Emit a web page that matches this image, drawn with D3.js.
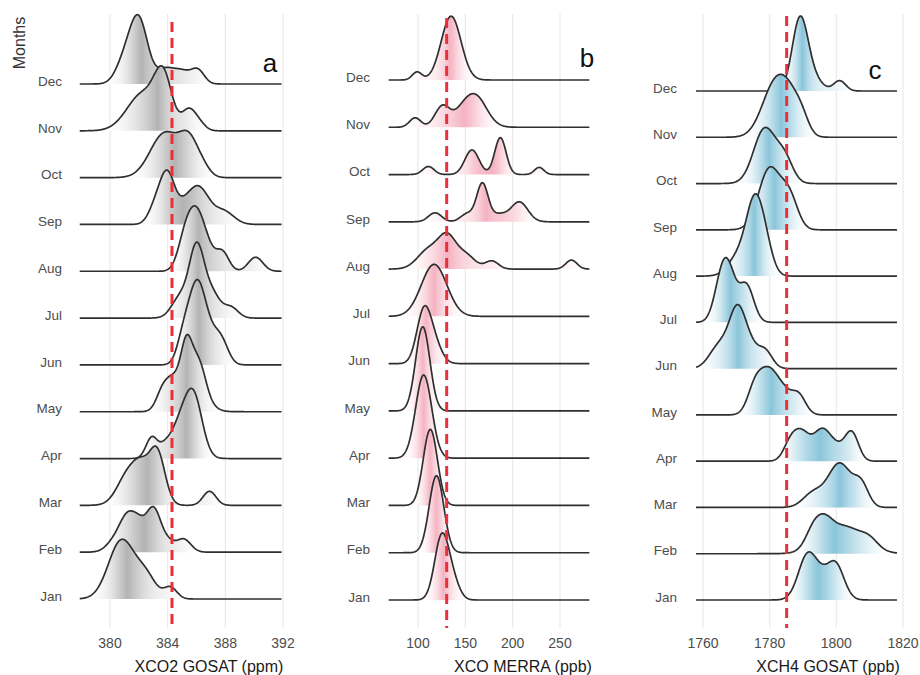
<!DOCTYPE html>
<html>
<head>
<meta charset="utf-8">
<script src="https://cdn.jsdelivr.net/npm/d3@7/dist/d3.min.js"></script>
<style>
  body { margin: 0; background: #fff; }
  svg { display: block; }
  text { font-family: "Liberation Sans", Arial, Helvetica, sans-serif; }
</style>
</head>
<body>
<svg id="chart" width="920" height="675"></svg>
<script>
// ---- data -------------------------------------------------------------
const months = ["Jan", "Feb", "Mar", "Apr", "May", "Jun", "Jul", "Aug", "Sep", "Oct", "Nov", "Dec"];

// Monthly density shapes, Jan..Dec. Each component: [centre, spread, peak height in row units]
const xco2Density = [
  [[380.8, 0.9, 1.25], [382.5, 0.7, 0.45], [384.2, 0.45, 0.24]],
  [[380.4, 0.6, 0.25], [381.3, 0.55, 0.72], [382.0, 0.4, 0.3], [383.0, 0.55, 0.95], [384.1, 0.4, 0.15], [385.1, 0.5, 0.28]],
  [[381.4, 0.8, 0.75], [382.2, 0.5, 0.4], [383.25, 0.55, 1.15], [386.9, 0.45, 0.3]],
  [[382.9, 0.4, 0.45], [383.8, 0.4, 0.2], [384.8, 0.6, 0.65], [385.8, 0.6, 1.3]],
  [[383.7, 0.45, 0.45], [384.3, 0.35, 0.18], [385.5, 0.85, 1.15], [385.3, 0.35, 0.5], [386.3, 0.4, 0.3]],
  [[385.1, 0.45, 0.55], [386.0, 0.55, 1.55], [386.8, 0.55, 0.55], [387.7, 0.5, 0.5]],
  [[384.9, 0.6, 0.45], [386.0, 0.5, 1.4], [387.0, 0.6, 0.55], [388.4, 0.5, 0.22]],
  [[385.2, 0.5, 0.65], [386.0, 0.55, 1.1], [386.8, 0.5, 0.35], [387.8, 0.45, 0.4], [390.1, 0.5, 0.3]],
  [[383.2, 0.5, 0.4], [384.0, 0.5, 1.0], [385.0, 0.5, 0.2], [386.1, 0.75, 0.8], [387.9, 0.7, 0.27]],
  [[383.8, 1.0, 0.95], [385.5, 0.65, 0.72], [386.5, 0.5, 0.15]],
  [[382.3, 1.1, 0.8], [383.7, 0.6, 1.0], [385.5, 0.5, 0.45], [386.3, 0.4, 0.1]],
  [[381.0, 0.6, 0.45], [382.0, 0.62, 1.35], [383.8, 0.6, 0.3], [385.0, 0.6, 0.26], [386.1, 0.45, 0.28]]
];
const xcoDensity = [
  [[125, 7.5, 1.33], [137, 7, 0.35]],
  [[119.5, 7.7, 1.63]],
  [[113, 7.5, 1.61]],
  [[106, 8.5, 1.76]],
  [[105, 7.5, 1.78]],
  [[106, 7.5, 1.05], [117, 8, 0.4]],
  [[117, 13.5, 1.1]],
  [[112, 12, 0.42], [131, 9, 0.6], [150, 10, 0.3], [178, 7, 0.17], [262, 6, 0.19]],
  [[118, 7, 0.19], [152, 7, 0.17], [168, 6, 0.8], [185, 8, 0.15], [207, 9, 0.42]],
  [[111, 6, 0.17], [157, 7.5, 0.52], [187, 6, 0.78], [228, 5, 0.15]],
  [[97, 6, 0.2], [126, 8, 0.45], [145, 8, 0.15], [160, 12, 0.68]],
  [[99, 5, 0.17], [135, 10.5, 1.35]]
];
const xch4Density = [
  [[1791.5, 2.8, 1.0], [1795.5, 2, 0.2], [1799.6, 2.6, 0.8]],
  [[1793.5, 2.5, 0.45], [1797, 2.2, 0.25], [1802, 6, 0.6], [1810, 2.5, 0.15]],
  [[1793, 3, 0.3], [1801, 3.5, 0.95], [1807.5, 2.2, 0.45]],
  [[1786, 2, 0.3], [1789.5, 2.5, 0.6], [1795.5, 2.5, 0.58], [1800, 3, 0.3], [1804.7, 2, 0.56]],
  [[1775.5, 2.2, 0.5], [1780, 3, 0.95], [1784.5, 2, 0.25], [1788.5, 2.2, 0.45]],
  [[1765, 3, 0.5], [1770.5, 2.5, 1.25], [1774.5, 2, 0.3], [1778.5, 2.2, 0.4]],
  [[1766, 2.3, 1.1], [1768.5, 2, 0.5], [1773, 2.2, 0.8]],
  [[1770.5, 3, 0.4], [1775.6, 2.6, 1.56], [1779, 2.2, 0.4]],
  [[1780, 3.3, 1.32], [1786, 2.5, 0.65]],
  [[1778.5, 3.3, 1.18], [1784.5, 2.5, 0.5]],
  [[1782, 4, 1.22], [1786, 2.5, 0.35], [1789.5, 2.2, 0.4]],
  [[1789, 2.3, 1.4], [1792, 3, 0.35], [1801, 1.8, 0.22]]
];

// value range covered by each panel's ridges
const xco2Range = [377.9, 391.9];
const xcoRange = [69, 281];
const xch4Range = [1757.9, 1818.2];

// axis ticks
const xco2Ticks = [380, 384, 388, 392];
const xcoTicks = [100, 150, 200, 250];
const xch4Ticks = [1760, 1780, 1800, 1820];

// reference values (dashed lines)
const xco2Ref = 384.3;
const xcoRef = 130.3;
const xch4Ref = 1785.1;

// ---- layout -----------------------------------------------------------
const panels = [
  { density: xco2Density, extent: xco2Range, ticks: xco2Ticks, ref: xco2Ref,
    title: "XCO2 GOSAT (ppm)", letter: "a",
    domain: [380, 392], range: [110, 283], yJan: 599, yDec: 84,
    labelRight: 62, titleX: 209, letterX: 270, letterY: 72, fill: "#b3b3b3", refTop: 22 },
  { density: xcoDensity, extent: xcoRange, ticks: xcoTicks, ref: xcoRef,
    title: "XCO MERRA (ppb)", letter: "b",
    domain: [100, 250], range: [418, 560], yJan: 600, yDec: 80,
    labelRight: 370, titleX: 523, letterX: 587, letterY: 67, fill: "#f5b2c2", refTop: 18 },
  { density: xch4Density, extent: xch4Range, ticks: xch4Ticks, ref: xch4Ref,
    title: "XCH4 GOSAT (ppb)", letter: "c",
    domain: [1760, 1820], range: [703, 903], yJan: 600, yDec: 91,
    labelRight: 677, titleX: 828, letterX: 875, letterY: 79, fill: "#8ac5da", refTop: 16 }
];

const svg = d3.select("#chart");
const defs = svg.append("defs");
const panelTop = 14, panelBottom = 628;
const nSamples = 400;

// y-axis title
svg.append("text")
  .attr("transform", "translate(25,43) rotate(-90)")
  .attr("text-anchor", "middle")
  .attr("font-size", 16)
  .attr("fill", "#333")
  .text("Months");

panels.forEach((p, pi) => {
  const g = svg.append("g");
  const x = d3.scaleLinear().domain(p.domain).range(p.range);
  const y = d3.scalePoint().domain(months).range([p.yJan, p.yDec]);
  const step = (p.yJan - p.yDec) / (months.length - 1);

  // vertical grid
  g.selectAll("line.grid").data(p.ticks).join("line")
    .attr("class", "grid")
    .attr("x1", d => x(d)).attr("x2", d => x(d))
    .attr("y1", panelTop).attr("y2", panelBottom)
    .attr("stroke", "#ebebeb").attr("stroke-width", 1.3);

  const xs = d3.range(nSamples + 1).map(i => p.extent[0] + (p.extent[1] - p.extent[0]) * i / nSamples);
  const shade = d3.interpolateRgb("#ffffff", p.fill);

  // ridges: top row first so lower rows sit in front
  months.slice().reverse().forEach(m => {
    const mi = months.indexOf(m);
    const comps = p.density[mi];
    const dens = xs.map(v => d3.sum(comps, ([c, s, h]) => h * Math.exp(-0.5 * ((v - c) / s) ** 2)));

    // cumulative distribution for the quantile shading
    const cum = [0];
    for (let i = 1; i <= nSamples; i++) cum.push(cum[i - 1] + (dens[i] + dens[i - 1]) / 2);
    const total = cum[nSamples];

    const gid = `grad-${pi}-${mi}`;
    const grad = defs.append("linearGradient")
      .attr("id", gid)
      .attr("gradientUnits", "userSpaceOnUse")
      .attr("x1", x(xs[0])).attr("x2", x(xs[nSamples]))
      .attr("y1", 0).attr("y2", 0);
    for (let i = 0; i <= nSamples; i += 2) {
      const F = cum[i] / total;
      const t = Math.max(0, 1 - Math.abs(2 * F - 1));
      grad.append("stop")
        .attr("offset", i / nSamples)
        .attr("stop-color", shade(Math.pow(t, 0.9)));
    }

    const base = y(m);
    const area = d3.area()
      .x((d, i) => x(xs[i]))
      .y0(base)
      .y1(d => base - d * step);
    const line = d3.line()
      .x((d, i) => x(xs[i]))
      .y(d => base - d * step);

    g.append("path").datum(dens)
      .attr("d", area)
      .attr("fill", `url(#${gid})`);
    g.append("path").datum(dens)
      .attr("d", line)
      .attr("fill", "none")
      .attr("stroke", "#2f2f2f")
      .attr("stroke-width", 1.7)
      .attr("stroke-linejoin", "round");
  });

  // reference line
  g.append("line")
    .attr("x1", x(p.ref)).attr("x2", x(p.ref))
    .attr("y1", p.refTop).attr("y2", panelBottom)
    .attr("stroke", "#e8303a").attr("stroke-width", 3)
    .attr("stroke-dasharray", "10,6");

  // month labels
  g.selectAll("text.month").data(months).join("text")
    .attr("class", "month")
    .attr("x", p.labelRight)
    .attr("y", d => y(d) - 3)
    .attr("dy", "0.35em")
    .attr("text-anchor", "end")
    .attr("font-size", 13.5)
    .attr("fill", "#4d4d4d")
    .text(d => d);

  // x tick labels
  g.selectAll("text.tick").data(p.ticks).join("text")
    .attr("class", "tick")
    .attr("x", d => x(d))
    .attr("y", 648)
    .attr("text-anchor", "middle")
    .attr("font-size", 14)
    .attr("fill", "#4d4d4d")
    .text(d => d);

  // axis title
  g.append("text")
    .attr("x", p.titleX).attr("y", 672)
    .attr("text-anchor", "middle")
    .attr("font-size", 16)
    .attr("fill", "#1a1a1a")
    .text(p.title);

  // panel letter
  g.append("text")
    .attr("x", p.letterX).attr("y", p.letterY)
    .attr("text-anchor", "middle")
    .attr("font-size", 26)
    .attr("fill", "#111")
    .text(p.letter);
});
</script>
</body>
</html>
